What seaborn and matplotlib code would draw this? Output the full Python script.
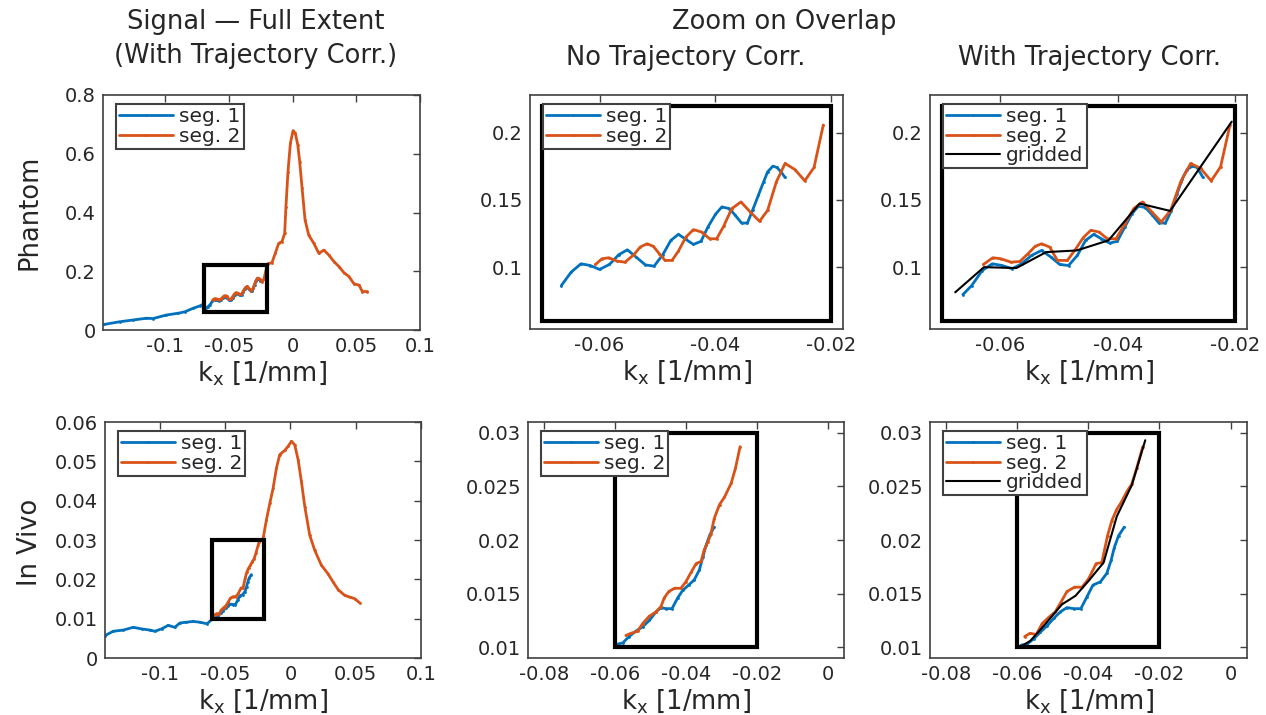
import numpy as np
import pandas as pd
import matplotlib
matplotlib.use('Agg')
import matplotlib.pyplot as plt
import seaborn as sns
from matplotlib.patches import Rectangle

# ---------------- data ----------------
# Phantom, zoom without trajectory correction
ph_raw_k1 = [-0.0666, -0.0649, -0.0632, -0.0616, -0.0600, -0.0583, -0.0567, -0.0552, -0.0537, -0.0521,
             -0.0506, -0.0491, -0.0477, -0.0464, -0.0451, -0.0438, -0.0425, -0.0413, -0.0400, -0.0389,
             -0.0376, -0.0366, -0.0355, -0.0345, -0.0336, -0.0326, -0.0317, -0.0310, -0.0301, -0.0294,
             -0.0287, -0.0280]
ph_raw_s1 = [0.0863, 0.0963, 0.1025, 0.1012, 0.0983, 0.1020, 0.1092, 0.1129, 0.1075, 0.1017,
             0.1007, 0.1092, 0.1199, 0.1244, 0.1206, 0.1169, 0.1192, 0.1299, 0.1393, 0.1448,
             0.1435, 0.1386, 0.1328, 0.1328, 0.1423, 0.1535, 0.1634, 0.1709, 0.1751, 0.1741,
             0.1709, 0.1667]
ph_raw_k2 = [-0.0607, -0.0596, -0.0584, -0.0570, -0.0556, -0.0541, -0.0530, -0.0518, -0.0507, -0.0497,
             -0.0487, -0.0475, -0.0464, -0.0451, -0.0438, -0.0424, -0.0410, -0.0398, -0.0386, -0.0372,
             -0.0356, -0.0340, -0.0324, -0.0310, -0.0295, -0.0280, -0.0263, -0.0246, -0.0230, -0.0214]
ph_raw_s2 = [0.1020, 0.1062, 0.1070, 0.1045, 0.1037, 0.1092, 0.1149, 0.1174, 0.1154, 0.1100,
             0.1050, 0.1050, 0.1119, 0.1224, 0.1279, 0.1261, 0.1211, 0.1211, 0.1303, 0.1435,
             0.1485, 0.1410, 0.1341, 0.1423, 0.1634, 0.1771, 0.1726, 0.1642, 0.1741, 0.2057]

# Phantom, zoom with trajectory correction
ph_cor_k1 = [-0.0664, -0.0649, -0.0631, -0.0614, -0.0597, -0.0580, -0.0564, -0.0547, -0.0530, -0.0514,
             -0.0499, -0.0484, -0.0469, -0.0455, -0.0441, -0.0428, -0.0414, -0.0401, -0.0388, -0.0376,
             -0.0365, -0.0353, -0.0341, -0.0330, -0.0319, -0.0309, -0.0299, -0.0290, -0.0282, -0.0273,
             -0.0265, -0.0255]
ph_cor_s1 = [0.0796, 0.0863, 0.0975, 0.1025, 0.1012, 0.0988, 0.1025, 0.1087, 0.1124, 0.1075,
             0.1020, 0.1012, 0.1087, 0.1199, 0.1244, 0.1211, 0.1179, 0.1192, 0.1299, 0.1398,
             0.1453, 0.1443, 0.1386, 0.1328, 0.1328, 0.1418, 0.1547, 0.1659, 0.1726, 0.1751,
             0.1741, 0.1667]
ph_cor_k2 = [-0.0629, -0.0613, -0.0599, -0.0582, -0.0567, -0.0553, -0.0541, -0.0530, -0.0516, -0.0503,
             -0.0486, -0.0472, -0.0459, -0.0446, -0.0432, -0.0418, -0.0403, -0.0388, -0.0373, -0.0358,
             -0.0342, -0.0326, -0.0310, -0.0293, -0.0276, -0.0259, -0.0241, -0.0225, -0.0209]
ph_cor_s2 = [0.1020, 0.1070, 0.1062, 0.1037, 0.1042, 0.1100, 0.1154, 0.1174, 0.1149, 0.1050,
             0.1050, 0.1134, 0.1219, 0.1274, 0.1261, 0.1211, 0.1211, 0.1323, 0.1435, 0.1485,
             0.1410, 0.1336, 0.1423, 0.1634, 0.1771, 0.1734, 0.1642, 0.1746, 0.2057]
ph_grid_k = [-0.0677, -0.0628, -0.0573, -0.0522, -0.0470, -0.0416, -0.0363, -0.0311, -0.0206]
ph_grid_s = [0.0813, 0.1000, 0.0993, 0.1112, 0.1124, 0.1199, 0.1473, 0.1418, 0.2082]

# Phantom, rest of the full extent
ph_lead_k1 = [-0.1480, -0.1360, -0.1255, -0.1150, -0.1097, -0.0992, -0.0900, -0.0847, -0.0782, -0.0729,
              -0.0703, -0.0680]
ph_lead_s1 = [0.019, 0.028, 0.034, 0.040, 0.039, 0.051, 0.057, 0.062, 0.074, 0.082, 0.088, 0.075]
ph_tail_k2 = [-0.0195, -0.0163, -0.0137, -0.0110, -0.0084, -0.0063, -0.0053, -0.0037, -0.0018, 0.0003,
              0.0021, 0.0040, 0.0055, 0.0074, 0.0097, 0.0126, 0.0166, 0.0205, 0.0245, 0.0284,
              0.0324, 0.0363, 0.0403, 0.0442, 0.0482, 0.0521, 0.0547, 0.0587]
ph_tail_s2 = [0.226, 0.229, 0.261, 0.295, 0.301, 0.329, 0.420, 0.539, 0.636, 0.679,
              0.669, 0.630, 0.573, 0.482, 0.375, 0.323, 0.295, 0.261, 0.272, 0.255,
              0.233, 0.216, 0.195, 0.182, 0.157, 0.153, 0.131, 0.131]

# In vivo, zoom without trajectory correction
iv_raw_k1 = [-0.0592, -0.0578, -0.0560, -0.0541, -0.0522, -0.0503, -0.0484, -0.0470, -0.0456, -0.0439,
             -0.0423, -0.0409, -0.0392, -0.0376, -0.0362, -0.0352, -0.0343, -0.0332, -0.0320]
iv_raw_s1 = [0.0103, 0.0104, 0.0110, 0.0115, 0.0119, 0.0125, 0.0133, 0.0137, 0.0136, 0.0136,
             0.0146, 0.0153, 0.0158, 0.0163, 0.0172, 0.0184, 0.0195, 0.0205, 0.0212]
iv_raw_k2 = [-0.0569, -0.0555, -0.0536, -0.0522, -0.0503, -0.0484, -0.0470, -0.0461, -0.0448, -0.0432,
             -0.0414, -0.0400, -0.0385, -0.0371, -0.0357, -0.0348, -0.0338, -0.0329, -0.0320, -0.0305,
             -0.0291, -0.0272, -0.0260, -0.0247]
iv_raw_s2 = [0.0111, 0.0113, 0.0115, 0.0122, 0.0129, 0.0133, 0.0138, 0.0146, 0.0152, 0.0155,
             0.0155, 0.0161, 0.0170, 0.0178, 0.0180, 0.0191, 0.0198, 0.0206, 0.0220, 0.0233,
             0.0240, 0.0253, 0.0267, 0.0287]

# In vivo, zoom with trajectory correction
iv_cor_k1 = [-0.0589, -0.0572, -0.0553, -0.0535, -0.0516, -0.0497, -0.0479, -0.0460, -0.0441, -0.0421,
             -0.0404, -0.0387, -0.0366, -0.0348, -0.0336, -0.0327, -0.0315, -0.0299]
iv_cor_s1 = [0.0102, 0.0103, 0.0108, 0.0114, 0.0120, 0.0127, 0.0133, 0.0137, 0.0136, 0.0136,
             0.0147, 0.0158, 0.0161, 0.0169, 0.0181, 0.0193, 0.0204, 0.0212]
iv_cor_k2 = [-0.0579, -0.0564, -0.0546, -0.0530, -0.0511, -0.0493, -0.0477, -0.0460, -0.0439, -0.0418,
             -0.0399, -0.0378, -0.0362, -0.0346, -0.0334, -0.0321, -0.0306, -0.0292, -0.0278, -0.0264,
             -0.0247]
iv_cor_s2 = [0.0110, 0.0113, 0.0112, 0.0122, 0.0128, 0.0133, 0.0142, 0.0152, 0.0156, 0.0156,
             0.0164, 0.0178, 0.0179, 0.0204, 0.0218, 0.0228, 0.0236, 0.0245, 0.0252, 0.0267,
             0.0287]
iv_grid_k = [-0.0593, -0.0563, -0.0525, -0.0474, -0.0436, -0.0399, -0.0357, -0.0320, -0.0278, -0.0240]
iv_grid_s = [0.0100, 0.0106, 0.0120, 0.0140, 0.0148, 0.0162, 0.0179, 0.0222, 0.0251, 0.0293]

# In vivo, rest of the full extent
iv_lead_k1 = [-0.1420, -0.1357, -0.1280, -0.1204, -0.1140, -0.1077, -0.1038, -0.0987, -0.0936, -0.0885,
              -0.0847, -0.0796, -0.0745, -0.0694, -0.0638]
iv_lead_s1 = [0.0057, 0.0068, 0.0071, 0.0078, 0.0074, 0.0071, 0.0068, 0.0074, 0.0083, 0.0078,
              0.0089, 0.0091, 0.0093, 0.0091, 0.0087]
iv_tail_k2 = [-0.0240, -0.0209, -0.0184, -0.0158, -0.0133, -0.0107, -0.0082, -0.0043, -0.0018, 0.0008,
              0.0033, 0.0059, 0.0084, 0.0110, 0.0148, 0.0186, 0.0237, 0.0288, 0.0327, 0.0365,
              0.0416, 0.0454, 0.0492, 0.0531]
iv_tail_s2 = [0.0295, 0.0304, 0.0351, 0.0393, 0.0431, 0.0483, 0.0517, 0.0528, 0.0538, 0.0551,
              0.0542, 0.0504, 0.0449, 0.0385, 0.0312, 0.0274, 0.0236, 0.0214, 0.0193, 0.0174,
              0.0159, 0.0155, 0.0151, 0.0140]

# overlap boxes [k0, k1, s0, s1]
ph_box = [-0.07, -0.02, 0.06, 0.22]
iv_box = [-0.06, -0.02, 0.01, 0.03]

# ---------------- styling ----------------
sns.set_style('white')
plt.rcParams['font.family'] = ['DejaVu Sans']
plt.rcParams['mathtext.fontset'] = 'dejavusans'

C1 = '#0072BD'
C2 = '#D95319'
FRAME = '#404040'
TXT = '#262626'
BIG = 18.5

fig = plt.figure(figsize=(12.66, 7.15), dpi=100)
W, H = 1266, 715


def make_ax(l, t, r, b):
    return fig.add_axes([l / W, 1 - b / H, (r - l) / W, (b - t) / H])


ax_tl = make_ax(103, 95, 420, 330)
ax_tm = make_ax(530, 95, 843, 329)
ax_tr = make_ax(930, 95, 1247, 329)
ax_bl = make_ax(105, 422, 421, 658)
ax_bm = make_ax(528, 422, 844, 658)
ax_br = make_ax(930, 422, 1247, 658)


def draw(ax, k1, s1, k2, s2, box, gk=None, gs=None):
    sns.lineplot(x=k1, y=s1, ax=ax, sort=False, estimator=None, color=C1, lw=2,
                 marker='.', markersize=4, markeredgewidth=0, label='seg. 1')
    sns.lineplot(x=k2, y=s2, ax=ax, sort=False, estimator=None, color=C2, lw=2,
                 marker='.', markersize=4, markeredgewidth=0, label='seg. 2')
    if gk is not None:
        sns.lineplot(x=gk, y=gs, ax=ax, sort=False, estimator=None, color='black',
                     lw=1.5, label='gridded')
    ax.add_patch(Rectangle((box[0], box[2]), box[1] - box[0], box[3] - box[2],
                           fill=False, ec='black', lw=3, zorder=5))
    leg = ax.legend(loc='upper left', bbox_to_anchor=(0.04, 0.96), borderaxespad=0,
                    fontsize=14.5, fancybox=False, framealpha=1, edgecolor=FRAME,
                    handlelength=2.7, handletextpad=0.3, labelspacing=0.02,
                    borderpad=0.15)
    leg.get_frame().set_linewidth(1.5)
    leg.set_zorder(10)
    ax.set_xlabel(r'k$_{\rm x}$ [1/mm]', fontsize=BIG, color=TXT, labelpad=2)
    ax.set_ylabel('')
    for sp in ax.spines.values():
        sp.set_color(FRAME)
        sp.set_linewidth(1.2)
    ax.tick_params(direction='in', top=True, right=True, length=5, width=1,
                   color=FRAME, labelcolor=TXT, labelsize=14, pad=5)


def fmt(vals):
    return [f'{v:g}' for v in vals]


draw(ax_tl, ph_lead_k1 + ph_cor_k1, ph_lead_s1 + ph_cor_s1,
     ph_cor_k2 + ph_tail_k2, ph_cor_s2 + ph_tail_s2, ph_box)
draw(ax_tm, ph_raw_k1, ph_raw_s1, ph_raw_k2, ph_raw_s2, ph_box)
draw(ax_tr, ph_cor_k1, ph_cor_s1, ph_cor_k2, ph_cor_s2, ph_box, ph_grid_k, ph_grid_s)
draw(ax_bl, iv_lead_k1 + iv_cor_k1, iv_lead_s1 + iv_cor_s1,
     iv_cor_k2 + iv_tail_k2, iv_cor_s2 + iv_tail_s2, iv_box)
draw(ax_bm, iv_raw_k1, iv_raw_s1, iv_raw_k2, iv_raw_s2, iv_box)
draw(ax_br, iv_cor_k1, iv_cor_s1, iv_cor_k2, iv_cor_s2, iv_box, iv_grid_k, iv_grid_s)

full_xt = [-0.1, -0.05, 0, 0.05, 0.1]
ax_tl.set_xlim(min(ph_lead_k1) - 0.001, 0.1)
ax_tl.set_ylim(0, 0.8)
ax_tl.set_xticks(full_xt, fmt(full_xt))
ax_tl.set_yticks([0, 0.2, 0.4, 0.6, 0.8], fmt([0, 0.2, 0.4, 0.6, 0.8]))

ax_bl.set_xlim(min(iv_lead_k1), 0.1)
ax_bl.set_ylim(0, 0.06)
ax_bl.set_xticks(full_xt, fmt(full_xt))
iv_yt = [0, 0.01, 0.02, 0.03, 0.04, 0.05, 0.06]
ax_bl.set_yticks(iv_yt, fmt(iv_yt))

for ax in (ax_tm, ax_tr):
    ax.set_xlim(-0.072, -0.018)
    ax.set_ylim(0.054, 0.228)
    ax.set_xticks([-0.06, -0.04, -0.02], fmt([-0.06, -0.04, -0.02]))
    ax.set_yticks([0.1, 0.15, 0.2], fmt([0.1, 0.15, 0.2]))

for ax in (ax_bm, ax_br):
    ax.set_xlim(-0.0845, 0.0046)
    ax.set_ylim(0.009, 0.031)
    xt = [-0.08, -0.06, -0.04, -0.02, 0]
    ax.set_xticks(xt, fmt(xt))
    yt = [0.01, 0.015, 0.02, 0.025, 0.03]
    ax.set_yticks(yt, fmt(yt))

# titles and row labels
fig.text(256 / W, 1 - 22 / H, 'Signal — Full Extent', ha='center', va='center',
         fontsize=BIG, color=TXT)
fig.text(256 / W, 1 - 56 / H, '(With Trajectory Corr.)', ha='center', va='center',
         fontsize=BIG, color=TXT)
fig.text(784 / W, 1 - 22 / H, 'Zoom on Overlap', ha='center', va='center',
         fontsize=BIG, color=TXT)
fig.text(686 / W, 1 - 58 / H, 'No Trajectory Corr.', ha='center', va='center',
         fontsize=BIG, color=TXT)
fig.text(1089 / W, 1 - 58 / H, 'With Trajectory Corr.', ha='center', va='center',
         fontsize=BIG, color=TXT)
fig.text(30 / W, 1 - 212 / H, 'Phantom', ha='center', va='center', rotation=90,
         fontsize=BIG, color=TXT)
fig.text(30 / W, 1 - 542 / H, 'In Vivo', ha='center', va='center', rotation=90,
         fontsize=BIG, color=TXT)

fig.savefig('out.png', dpi=100, facecolor='white')
